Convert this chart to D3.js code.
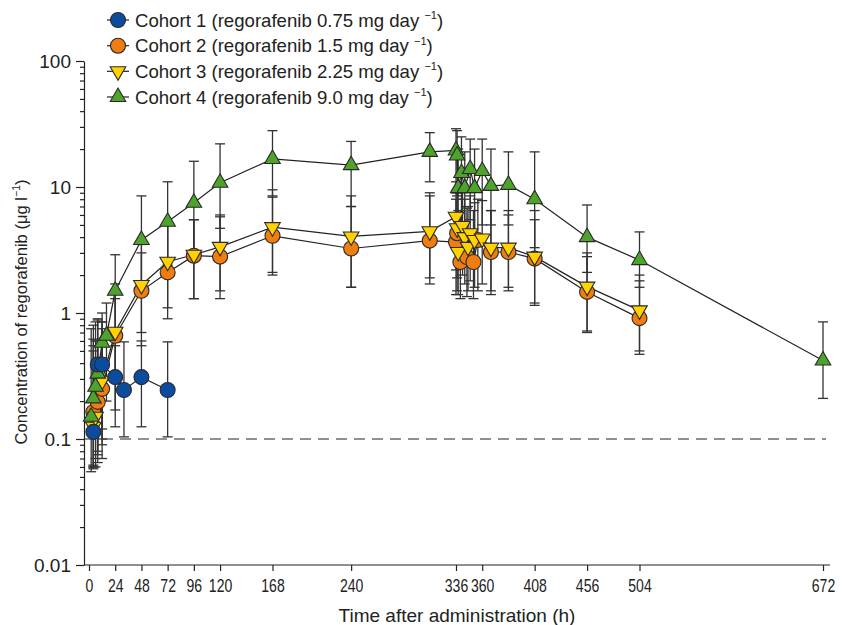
<!DOCTYPE html>
<html>
<head>
<meta charset="utf-8">
<script src="https://cdn.jsdelivr.net/npm/d3@7"></script>
<style>
  body { margin: 0; background: #fff; }
  svg { font-family: "Liberation Sans", Arial, sans-serif; }
</style>
</head>
<body>
<script>
// cohort 1 - regorafenib 0.75 mg/day
const c1Time = [4, 8, 12, 24, 32, 48, 72];
const c1Mean = [0.114, 0.39, 0.39, 0.31, 0.245, 0.31, 0.245];
const c1Low  = [0.062, 0.075, 0.07, 0.125, 0.104, 0.125, 0.104];
const c1High = [0.62, 0.88, 0.85, 0.55, 0.59, 0.6, 0.59];

// cohort 2 - 1.5 mg/day
const c2Time = [4, 8, 12, 24, 48, 72, 96, 120, 168, 240, 312, 336, 337, 340, 346, 352, 356, 368, 384, 408, 456, 504];
const c2Mean = [0.164, 0.197, 0.25, 0.66, 1.5, 2.1, 2.85, 2.8, 4.1, 3.25, 3.75, 3.66, 4.3, 2.54, 2.78, 2.54, 3.8, 3.05, 3.05, 2.7, 1.47, 0.91];
const c2Low  = [0.06, 0.065, 0.09, 0.17, 0.55, 0.9, 1.3, 1.3, 2.0, 1.6, 1.7, 1.4, 1.5, 1.3, 1.35, 1.3, 1.5, 1.4, 1.6, 1.15, 0.72, 0.47];
const c2High = [0.5, 0.6, 0.75, 1.3, 3.0, 5.0, 5.5, 5.8, 8.5, 7.0, 8.5, 8.0, 9.0, 6.5, 6.8, 6.5, 8.0, 6.5, 6.0, 6.5, 3.0, 1.8];

// cohort 3 - 2.25 mg/day
const c3Time = [4, 6, 12, 24, 48, 72, 96, 120, 168, 240, 312, 336, 337, 338, 342, 344, 347, 349, 353, 360, 368, 384, 408, 456, 504];
const c3Mean = [0.125, 0.15, 0.29, 0.71, 1.67, 2.55, 2.9, 3.35, 4.8, 4.05, 4.45, 5.8, 4.7, 3.05, 4.9, 4.0, 3.35, 4.3, 3.8, 3.9, 3.3, 3.3, 2.8, 1.62, 1.05];
const c3Low  = [0.058, 0.06, 0.1, 0.3, 0.7, 1.1, 1.3, 1.5, 2.1, 1.6, 1.9, 2.2, 1.9, 1.4, 2.0, 1.7, 1.5, 1.8, 1.6, 1.7, 1.5, 1.5, 1.2, 0.7, 0.5];
const c3High = [0.55, 0.6, 0.85, 1.7, 3.5, 5.2, 5.5, 6.0, 9.5, 8.5, 9.0, 11, 9.5, 6.5, 9.5, 8.0, 7.0, 8.5, 7.5, 7.8, 6.5, 6.5, 5.5, 2.8, 2.0];

// cohort 4 - 9.0 mg/day
const c4Time = [2, 4, 6, 8, 12, 16, 24, 48, 72, 96, 120, 168, 240, 312, 336, 337, 338, 341, 344, 349, 353, 360, 368, 384, 408, 456, 504, 672];
const c4Mean = [0.15, 0.21, 0.26, 0.33, 0.58, 0.66, 1.5, 3.8, 5.3, 7.5, 10.8, 16.7, 14.9, 19.0, 19.5, 17.8, 9.8, 12.9, 9.8, 13.9, 9.8, 13.4, 10.2, 10.4, 8.0, 4.0, 2.63, 0.42];
const c4Low  = [0.055, 0.06, 0.07, 0.08, 0.12, 0.2, 0.7, 1.7, 2.4, 3.0, 4.7, 8.3, 7.0, 11, 9.0, 8.5, 3.5, 5.0, 3.5, 5.5, 3.6, 5.0, 5.0, 5.0, 3.3, 2.1, 1.6, 0.21];
const c4High = [0.75, 0.8, 0.85, 0.9, 1.0, 1.2, 2.9, 8.5, 11, 16, 22, 28, 23, 27, 29, 28, 20, 25, 19, 24, 20, 24, 20, 19, 19, 7.2, 4.4, 0.85];

const xTicks = [0, 24, 48, 72, 96, 120, 168, 240, 336, 360, 408, 456, 504, 672];
const yTicks = [0.01, 0.1, 1, 10, 100];
const yTickLabels = ["0.01", "0.1", "1", "10", "100"];
const lloq = 0.1;

const legendNames = [
  "Cohort 1 (regorafenib 0.75 mg day",
  "Cohort 2 (regorafenib 1.5 mg day",
  "Cohort 3 (regorafenib 2.25 mg day",
  "Cohort 4 (regorafenib 9.0 mg day"
];

const cohorts = [
  {time: c1Time, mean: c1Mean, low: c1Low, high: c1High, color: "#0c4c9e", shape: "circle"},
  {time: c2Time, mean: c2Mean, low: c2Low, high: c2High, color: "#ef7d10", shape: "circle"},
  {time: c3Time, mean: c3Mean, low: c3Low, high: c3High, color: "#ffd200", shape: "down"},
  {time: c4Time, mean: c4Mean, low: c4Low, high: c4High, color: "#4ea42a", shape: "up"}
];
cohorts.forEach(c => {
  c.points = c.time.map((t, i) => ({t: t, v: c.mean[i], lo: c.low[i], hi: c.high[i]}));
});

const width = 842, height = 625;
const svg = d3.select("body").append("svg")
  .attr("width", width)
  .attr("height", height);

const x = d3.scaleLinear().domain([0, 672]).range([89, 823]);
const y = d3.scaleLog().domain([0.01, 100]).range([565, 61]);

const ink = "#222";

// axes
const xAxis = svg.append("g")
  .attr("transform", "translate(0,565)")
  .call(d3.axisBottom(x).tickValues(xTicks).tickSize(6).tickSizeOuter(0).tickPadding(8));
xAxis.select(".domain").attr("d", "M84,0H830");
// narrow digits like the original
xAxis.selectAll("text").attr("font-size", 18).attr("fill", ink).attr("transform", "scale(0.78,1)");

const minorTicks = [];
[0.01, 0.1, 1, 10].forEach(d => { for (let k = 2; k <= 9; k++) minorTicks.push(d * k); });

const yAxis = svg.append("g")
  .attr("transform", "translate(84,0)")
  .call(d3.axisLeft(y).tickValues(yTicks).tickFormat((d, i) => yTickLabels[i]).tickSize(8).tickSizeOuter(0).tickPadding(5));
yAxis.selectAll("text").attr("font-size", 19).attr("fill", ink);

svg.append("g")
  .attr("transform", "translate(84,0)")
  .call(d3.axisLeft(y).tickValues(minorTicks).tickFormat("").tickSize(4).tickSizeOuter(0))
  .select(".domain").remove();

svg.selectAll(".domain, .tick line").attr("stroke", ink).attr("stroke-width", 1.2);

// dashed lower limit line
svg.append("line")
  .attr("x1", 84).attr("x2", x(672) + 3)
  .attr("y1", y(lloq)).attr("y2", y(lloq))
  .attr("stroke", ink).attr("stroke-width", 1.1)
  .attr("stroke-dasharray", "11,7");

// error bars
cohorts.forEach(c => {
  const g = svg.append("g").attr("stroke", "#333").attr("stroke-width", 1.3);
  g.selectAll(".bar").data(c.points).enter().append("line")
    .attr("x1", d => x(d.t)).attr("x2", d => x(d.t))
    .attr("y1", d => y(d.lo)).attr("y2", d => y(d.hi));
  ["lo", "hi"].forEach(k => {
    g.selectAll(".cap-" + k).data(c.points).enter().append("line")
      .attr("x1", d => x(d.t) - 5).attr("x2", d => x(d.t) + 5)
      .attr("y1", d => y(d[k])).attr("y2", d => y(d[k]));
  });
});

// connecting lines
const line = d3.line().x(d => x(d.t)).y(d => y(d.v));
cohorts.forEach(c => {
  svg.append("path")
    .datum(c.points)
    .attr("d", line)
    .attr("fill", "none")
    .attr("stroke", ink)
    .attr("stroke-width", 1.2);
});

function drawMarker(sel, c) {
  if (c.shape === "circle") {
    sel.append("circle").attr("r", 7.5);
  } else {
    sel.append("path")
      .attr("d", d3.symbol().type(d3.symbolTriangle).size(105)())
      .attr("transform", c.shape === "down" ? "rotate(180)" : null);
  }
  sel.selectAll("circle, path")
    .attr("fill", c.color)
    .attr("stroke", "#2a2a2a")
    .attr("stroke-width", 1.1);
}

// markers: orange, yellow, green, then blue
[1, 2, 3, 0].forEach(ci => {
  const c = cohorts[ci];
  svg.append("g").selectAll("g").data(c.points).enter().append("g")
    .attr("transform", d => `translate(${x(d.t)},${y(d.v)})`)
    .each(function() { drawMarker(d3.select(this), c); });
});

// legend
const legendY = [20, 45.7, 71.3, 97];
cohorts.forEach((c, i) => {
  const g = svg.append("g").attr("transform", `translate(118,${legendY[i]})`);
  g.append("line").attr("x1", -11).attr("x2", 11).attr("stroke", ink).attr("stroke-width", 1.2);
  const m = g.append("g");
  drawMarker(m, c);
  const t = g.append("text").attr("x", 17).attr("y", 6.5).attr("font-size", 18.6).attr("fill", ink)
    .text(legendNames[i] + " ");
  t.append("tspan").attr("font-size", 11).attr("dy", -7.5).text("\u22121");
  t.append("tspan").attr("dy", 7.5).text(")");
});

// axis titles
svg.append("text")
  .attr("x", 457).attr("y", 622)
  .attr("text-anchor", "middle").attr("font-size", 19).attr("fill", ink)
  .text("Time after administration (h)");

const yl = svg.append("text")
  .attr("transform", "translate(27,312) rotate(-90)")
  .attr("text-anchor", "middle").attr("font-size", 16.6).attr("fill", ink)
  .text("Concentration of regorafenib (\u03bcg l");
yl.append("tspan").attr("font-size", 10.5).attr("dy", -7).text("\u22121");
yl.append("tspan").attr("dy", 7).text(")");
</script>
</body>
</html>
